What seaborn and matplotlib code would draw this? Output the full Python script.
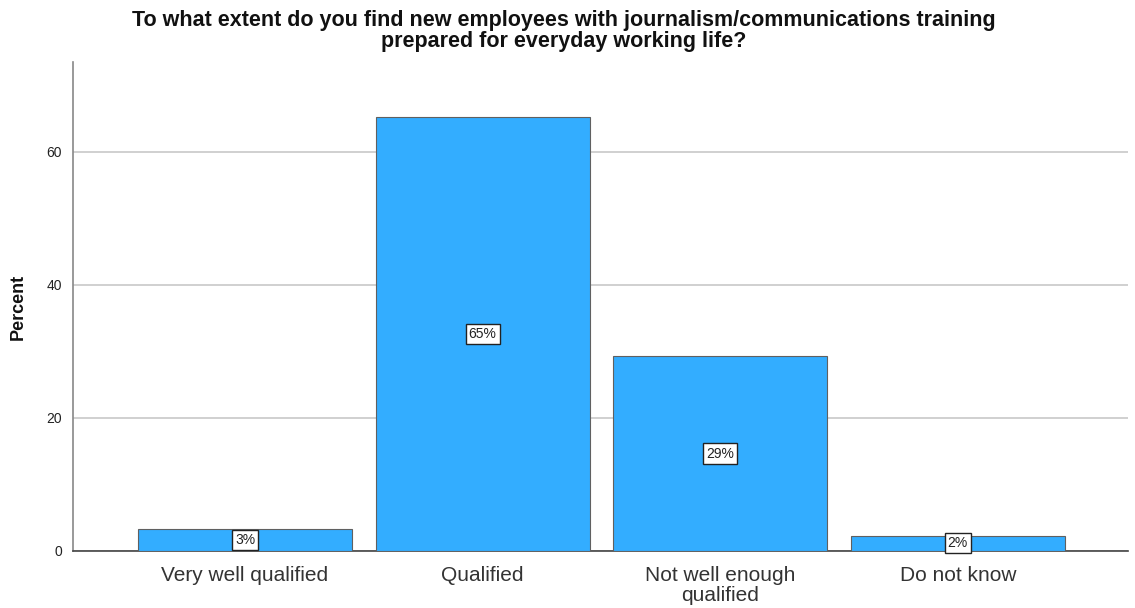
import pandas as pd
import matplotlib.pyplot as plt
import seaborn as sns

# 資料
categories = ['Very well qualified', 'Qualified', 'Not well enough\nqualified', 'Do not know']
percents = [3.3, 65.3, 29.3, 2.3]
labels = ['3%', '65%', '29%', '2%']
yticks = [0, 20, 40, 60]

df = pd.DataFrame({'category': categories, 'percent': percents})

sns.set_theme(style='white')
plt.rcParams['font.family'] = ['Liberation Sans', 'DejaVu Sans']

fig = plt.figure(figsize=(11.35, 6.08), dpi=100)
ax = fig.add_axes([73 / 1135, 1 - 551 / 608, (1128 - 73) / 1135, (551 - 62) / 608])

sns.barplot(data=df, x='category', y='percent', color='#33adff', saturation=1,
            width=0.9, edgecolor='#606060', linewidth=0.8, ax=ax, zorder=3)

# 在柱子中間標示百分比
for i, (v, lab) in enumerate(zip(percents, labels)):
    ax.text(i, v / 2, lab, ha='center', va='center', fontsize=10, zorder=5,
            color='#222222',
            bbox=dict(boxstyle='square,pad=0.22', fc='white', ec='#222222', lw=1))

ax.set_xlim(-0.724, 3.716)
ax.set_ylim(0, 73.5)
ax.set_yticks(yticks)
ax.yaxis.grid(True, color='#c8c8c8', linewidth=1.2, zorder=0)
ax.set_axisbelow(True)
ax.tick_params(axis='y', length=0, labelsize=10, pad=8, labelcolor='#222222')
ax.tick_params(axis='x', length=0, labelsize=15, pad=11, labelcolor='#333333')
for lab in ax.get_xticklabels():
    lab.set_linespacing(1.08)

for s in ['top', 'right']:
    ax.spines[s].set_visible(False)
ax.spines['left'].set_color('#888888')
ax.spines['left'].set_linewidth(1.2)
ax.spines['bottom'].set_color('#444444')
ax.spines['bottom'].set_linewidth(1.2)

ax.set_xlabel('')
ax.set_ylabel('Percent', fontsize=13, fontweight='bold', labelpad=14, color='#111111')

fig.text(564 / 1135, 1 - 10 / 608,
         'To what extent do you find new employees with journalism/communications training\nprepared for everyday working life?',
         ha='center', va='top', fontsize=15.5, fontweight='bold', linespacing=1.0,
         color='#111111')

fig.savefig('out.png', dpi=100)
